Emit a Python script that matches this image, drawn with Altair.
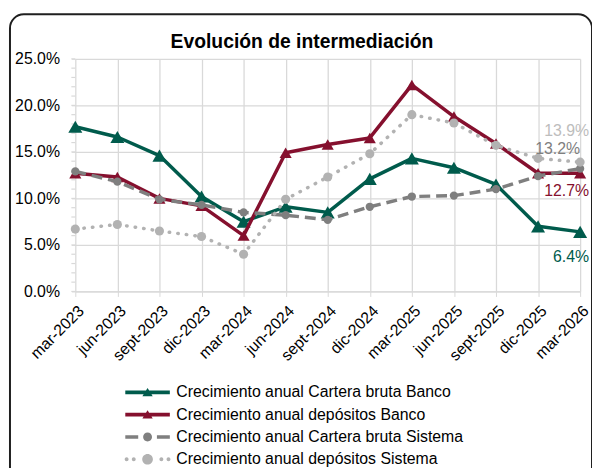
import altair as alt
import pandas as pd

# ---------------- data ----------------
fechas = ["mar-2023", "jun-2023", "sept-2023", "dic-2023", "mar-2024", "jun-2024",
          "sept-2024", "dic-2024", "mar-2025", "jun-2025", "sept-2025", "dic-2025", "mar-2026"]

series = ["Crecimiento anual Cartera bruta Banco",
          "Crecimiento anual depósitos Banco",
          "Crecimiento anual Cartera bruta Sistema",
          "Crecimiento anual depósitos Sistema"]

cartera_banco = [17.7, 16.6, 14.6, 10.2, 7.5, 9.1, 8.5, 12.1, 14.3, 13.3, 11.5, 7.0, 6.4]
depositos_banco = [12.7, 12.3, 10.0, 9.2, 6.0, 14.9, 15.8, 16.5, 22.2, 18.8, 15.9, 12.7, 12.7]
cartera_sistema = [12.9, 11.8, 9.9, 9.3, 8.5, 8.2, 7.7, 9.1, 10.2, 10.3, 11.0, 12.4, 13.2]
depositos_sistema = [6.7, 7.2, 6.5, 5.9, 4.0, 9.9, 12.3, 14.8, 19.0, 18.1, 15.7, 14.3, 13.9]

titulo = "Evolución de intermediación"
ticks_y = [0.0, 0.05, 0.10, 0.15, 0.20, 0.25]
ticks_menores = [0.00, 0.01, 0.02, 0.03, 0.04, 0.05, 0.06, 0.07, 0.08, 0.09, 0.10, 0.11, 0.12,
                 0.13, 0.14, 0.15, 0.16, 0.17, 0.18, 0.19, 0.20, 0.21, 0.22, 0.23, 0.24, 0.25]

valores = [cartera_banco, depositos_banco, cartera_sistema, depositos_sistema]
rows = []
for s, vals in zip(series, valores):
    for f, v in zip(fechas, vals):
        rows.append({"fecha": f, "serie": s, "valor": v / 100})
df = pd.DataFrame(rows)

# ---------------- styles ----------------
FONT = "Liberation Sans"
colores = ["#005B4C", "#85102E", "#7F7F7F", "#B2B2B2"]
label_colores = ["#005B4C", "#85102E", "#7F7F7F", "#BDBDBD"]
W, H = 510, 235
GRID = "#D9D9D9"


def circ(cx, r):
    return (f"M{cx - r},0A{r},{r} 0 1,1 {cx + r},0A{r},{r} 0 1,1 {cx - r},0Z")


tri_line = "M-2.5,-0.21H2.5V0.21H-2.5Z M-0.58,0.42L0,-0.5L0.58,0.42Z"
dash_sym = ("M-2.5,-0.2H-1.05V0.2H-2.5Z M1.05,-0.2H2.5V0.2H1.05Z " + circ(0, 0.5))
dot_sym = " ".join([circ(-2.35, 0.22), circ(-1.55, 0.22), circ(0, 0.6),
                    circ(1.55, 0.22), circ(2.35, 0.22)])
simbolos = [tri_line, tri_line, dash_sym, dot_sym]

x_enc = alt.X("fecha:N", sort=fechas,
              scale=alt.Scale(type="point", padding=0),
              axis=alt.Axis(title=None, labelAngle=-45, labelFont=FONT, labelFontSize=16,
                            labelColor="#000000", grid=True, gridColor=GRID, gridWidth=1.3,
                            domainColor=GRID, domainWidth=1.3, tickColor=GRID, tickSize=5,
                            labelPadding=6))
y_enc = alt.Y("valor:Q",
              scale=alt.Scale(domain=[0, 0.25], nice=False, zero=True),
              axis=alt.Axis(title=None, values=ticks_y, format=".1%", labelFont=FONT,
                            labelFontSize=16, labelColor="#000000", grid=True,
                            gridColor=GRID, gridWidth=1.3, domain=False, tickColor=GRID,
                            tickSize=4, labelPadding=12))

one = pd.DataFrame({"k": [0]})

frame = alt.Chart(one).mark_rect(cornerRadius=14, fillOpacity=0, stroke="#1f1f1f",
                                 strokeWidth=2).encode(
    x=alt.value(-66), x2=alt.value(522), y=alt.value(-45), y2=alt.value(430))

title = alt.Chart(one).mark_text(font=FONT, fontSize=19.5, fontWeight="bold",
                                 align="center", baseline="alphabetic",
                                 color="#000000").encode(
    x=alt.value(229), y=alt.value(-11), text=alt.value(titulo))

minor = alt.Chart(pd.DataFrame({"valor": ticks_menores})).mark_rule(
    color=GRID, strokeWidth=1.2).encode(
    y=alt.Y("valor:Q"), x=alt.value(-4), x2=alt.value(0))

line_styles = [
    dict(strokeWidth=3.5),
    dict(strokeWidth=3.5),
    dict(strokeWidth=3.5, strokeDash=[11, 6]),
    dict(strokeWidth=3.5, strokeDash=[0.5, 8.2], strokeCap="round"),
]
point_styles = [
    dict(shape="triangle-up", size=200),
    dict(shape="triangle-up", size=150),
    dict(shape="circle", size=70),
    dict(shape="circle", size=85),
]

layers = [frame, title, minor]
for s, c, ls, ps in zip(series, colores, line_styles, point_styles):
    b = alt.Chart(df).transform_filter(alt.datum.serie == s)
    layers.append(b.mark_line(color=c, strokeJoin="round", **ls).encode(x=x_enc, y=y_enc))
    layers.append(b.mark_point(filled=True, color=c, opacity=1, **ps).encode(x=x_enc, y=y_enc))

# end labels
label_offsets = [
    dict(align="right", dx=9, dy=25),      # 6.4%
    dict(align="right", dx=9, dy=18),      # 12.7%
    dict(align="right", dx=0, dy=-20),     # 13.2%
    dict(align="right", dx=9, dy=-31),     # 13.9%
]
for s, c, off in zip(series, label_colores, label_offsets):
    layers.append(
        alt.Chart(df)
        .transform_filter((alt.datum.serie == s) & (alt.datum.fecha == fechas[-1]))
        .mark_text(font=FONT, fontSize=16, color=c, baseline="middle", **off)
        .encode(x=x_enc, y=y_enc, text=alt.Text("valor:Q", format=".1%"))
    )

leg = dict(title=None, orient="none", legendX=64, legendY=328, direction="vertical",
           labelFont=FONT, labelFontSize=16, labelColor="#000000", labelLimit=500,
           symbolSize=324, symbolStrokeWidth=0, rowPadding=5.5, labelOffset=20,
           padding=0, symbolOpacity=1)
legend_layer = alt.Chart(df).transform_filter("false").mark_point(
    filled=True, opacity=1).encode(
    color=alt.Color("serie:N", scale=alt.Scale(domain=series, range=colores),
                    legend=alt.Legend(**leg)),
    shape=alt.Shape("serie:N", scale=alt.Scale(domain=series, range=simbolos),
                    legend=alt.Legend(**leg)),
)
layers.append(legend_layer)

chart = alt.layer(*layers).properties(
    width=W, height=H,
    autosize=alt.AutoSizeParams(type="none"),
    padding={"left": 68, "top": 49, "right": 12, "bottom": 176},
    background="#ffffff",
).configure_view(strokeWidth=0)

chart.save("out.html", embed_options={"renderer": "svg", "actions": False})
